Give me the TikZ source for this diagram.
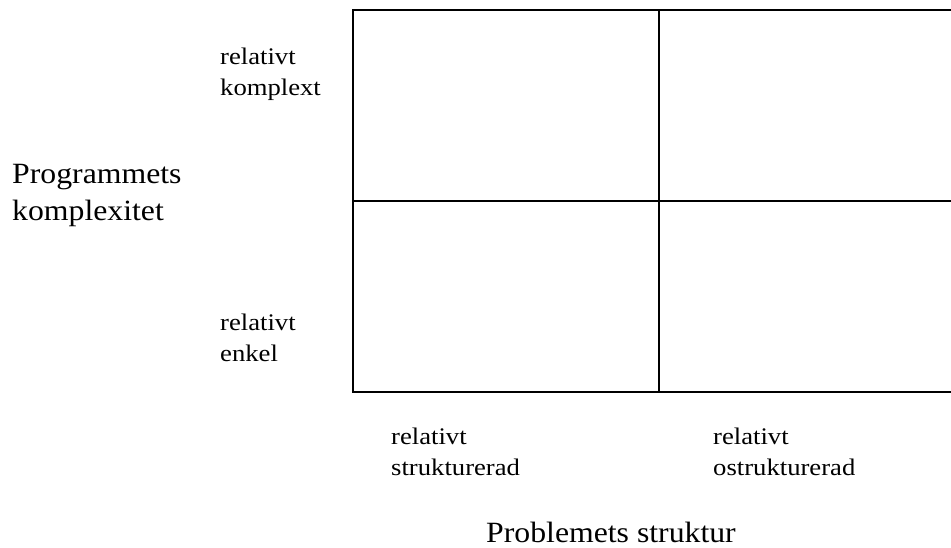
\documentclass[tikz,border=0pt]{standalone}
\usepackage{fontspec}
\setmainfont{Liberation Serif}
\newcommand{\hsm}[1]{\scalebox{1.12}[1]{#1}}
\newcommand{\hbg}[1]{\scalebox{1.08}[1]{#1}}
\begin{document}
\begin{tikzpicture}[x=1pt,y=-1pt,
  small/.style={anchor=base west,inner sep=0pt,align=left,font=\fontsize{23.8}{31}\selectfont},
  big/.style={anchor=base west,inner sep=0pt,align=left,font=\fontsize{29.4}{37}\selectfont},
  grid/.style={line width=2pt,line cap=rect}]
\useasboundingbox (0,0) rectangle (951,547);
\coordinate (tl) at (353,10);
\coordinate (tr) at (951,10);
\coordinate (bl) at (353,392);
\coordinate (br) at (951,392);
\coordinate (ml) at (353,201);
\coordinate (mr) at (951,201);
\coordinate (mt) at (659,10);
\coordinate (mb) at (659,392);
\draw[grid] (tr) -- (tl) -- (bl) -- (br);
\draw[grid] (ml) -- (mr);
\draw[grid] (mt) -- (mb);
\node[small] (komplext) at (220,95) {\hsm{relativt}\\\hsm{komplext}};
\node[small] (enkel) at (220,361.5) {\hsm{relativt}\\\hsm{enkel}};
\node[big] (prog) at (12,220) {\hbg{Programmets}\\\hbg{komplexitet}};
\node[small] (strukt) at (391,475) {\hsm{relativt}\\\hsm{strukturerad}};
\node[small] (ostrukt) at (713,475) {\hsm{relativt}\\\hsm{ostrukturerad}};
\node[big] (probl) at (486,542) {\hbg{Problemets struktur}};
\end{tikzpicture}
\end{document}
